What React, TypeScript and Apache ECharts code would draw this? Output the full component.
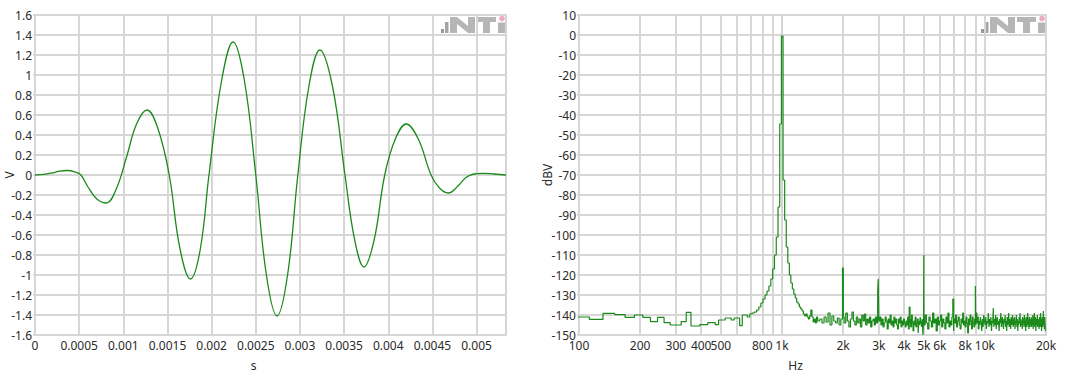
import React, { useEffect, useRef } from "react";
import * as echarts from "echarts";

// ---------- Left chart: time signal (s, V) ----------
const waveT = [
  0, 0.0001, 0.0002, 0.00028, 0.00036, 0.00045, 0.00052, 0.0006, 0.0007, 0.000807,
  0.00092, 0.00104, 0.00115, 0.001268, 0.00139, 0.00152, 0.00164, 0.00176, 0.00187, 0.00197,
  0.00211, 0.002243, 0.00237, 0.0025, 0.00262, 0.00274, 0.00286, 0.002976, 0.0031, 0.003225,
  0.00337, 0.00351, 0.00362, 0.003725, 0.00384, 0.00396, 0.00408, 0.004204, 0.00434, 0.004485,
  0.00458, 0.00468, 0.00479, 0.00488, 0.00497, 0.00507, 0.0052, 0.005333,
];
const waveV = [
  0, 0.006, 0.022, 0.038, 0.045, 0.032, 0, -0.12, -0.24, -0.28,
  -0.14, 0.19, 0.51, 0.65, 0.47, 0, -0.73, -1.04, -0.75, 0,
  0.93, 1.33, 0.95, 0, -1.0, -1.41, -1.0, 0, 0.88, 1.25,
  0.88, 0, -0.65, -0.92, -0.65, 0, 0.36, 0.51, 0.36, 0,
  -0.13, -0.18, -0.11, -0.025, 0.01, 0.017, 0.01, 0,
];

// ---------- Right chart: spectrum (Hz, dBV) ----------
const BIN_HZ = 18.75;
const LOW_FIRST_BIN = 5;
// one value per FFT bin, bins 5..79 (93.75 Hz .. 1481.25 Hz)
const lowBins = [
  -141, -141, -142.2, -139.2, -139.8, -141.2, -140, -141.2, -143.3, -141.2,
  -143.8, -145, -145, -143.3, -138.7, -145.5, -145.5, -144.8, -144.8, -143.8,
  -143.8, -144.8, -142.5, -142.5, -141.5, -141.5, -142.5, -141.5, -141.5, -145.3,
  -140, -140, -141, -139.5, -139, -138.5, -137.5, -136, -134, -132,
  -130, -128, -125.5, -122, -117, -110, -101, -86, -44.5, -0.5,
  -72.5, -92.5, -106, -114, -120, -124, -127, -129.5, -131.5, -133.5,
  -134.5, -136, -137, -138, -139.5, -140.5, -139.5, -141, -142, -140.5,
  -137.5, -141, -143.5, -142, -144,
];
// noise floor 1500 Hz .. 4987.5 Hz, every 37.5 Hz
const NOISE_A_START = 1500;
const NOISE_A_STEP = 37.5;
const noiseA = [
  -141, -143, -142, -144, -141, -143.5, -139, -145, -140.5, -143, -144, -141.5, -145, -142,
  -141, -144, -139, -143, -146, -142, -138.5, -143, -145, -141, -144, -142, -146, -140,
  -143, -139.5, -145, -142, -144, -141, -146, -143, -142, -145, -141, -144, -143,
  -143, -141, -145, -142, -146, -144, -141, -143, -147, -142, -144, -140, -145, -143,
  -146, -141, -144, -142, -145, -147, -142, -144, -141, -146, -143, -145,
  -142, -144, -146, -143, -145, -141, -147, -144, -142, -146, -140, -144, -148, -143,
  -145, -141, -146, -144, -142, -149, -143, -145, -141, -144, -146, -142, -150,
];
// noise floor 5000 Hz .. 19925 Hz, every 75 Hz
const NOISE_B_START = 5000;
const NOISE_B_STEP = 75;
const noiseB = [
  -142, -145, -140, -144, -147, -141, -143, -146, -139, -144, -142, -148, -141, -145, -143, -140, -146, -142, -144, -147,
  -141, -144, -139, -146, -143, -145, -141, -148, -142, -144, -140, -146, -143, -141, -145, -147, -142, -144, -139, -145,
  -143, -146, -141, -144, -149, -142, -145, -140, -143, -147, -141, -144, -146, -142, -145, -139, -144, -141, -147, -143,
  -145, -141, -144, -148, -142, -146, -140, -143, -145, -141, -147, -143, -144, -139, -146, -142, -145, -141, -148, -143,
  -144, -141, -146, -142, -145, -140, -147, -143, -141, -145, -143, -148, -142, -144, -139, -146, -143, -141, -145, -147,
  -142, -144, -140, -146, -143, -148, -141, -145, -143, -139, -146, -142, -144, -147, -141, -145, -143, -140, -146, -142,
  -145, -141, -147, -143, -144, -140, -146, -142, -148, -143, -145, -141, -144, -139, -146, -142, -145, -143, -147, -141,
  -144, -142, -146, -140, -145, -143, -148, -141, -144, -146, -142, -139, -145, -143, -147, -141, -144, -146, -142, -145,
  -141, -146, -143, -145, -140, -147, -142, -144, -139, -146, -143, -141, -148, -144, -142, -145, -140, -146, -143, -145,
  -142, -147, -141, -144, -146, -139, -145, -142, -148, -143, -141, -146, -144, -138, -145, -142, -147, -141, -144, -148,
];
const endPoint = [20000, -148];
// harmonic / spurious lines: [Hz, dBV], one bin wide
const spikes = [
  [2006.25, -116.5],
  [2981.25, -128],
  [3000, -122],
  [4275, -136],
  [5006.25, -110],
  [7012.5, -132],
  [9000, -125.5],
  [11006.25, -136.5],
];

const gridFreqs = [
  100, 200, 300, 400, 500, 600, 700, 800, 900, 1000, 2000, 3000, 4000, 5000, 6000,
  7000, 8000, 9000, 10000, 20000,
];
const labelFreqs = [100, 200, 300, 400, 500, 800, 1000, 2000, 3000, 4000, 5000, 6000, 8000, 10000, 20000];

function buildSpectrum(): number[][] {
  const base: number[][] = [];
  lowBins.forEach((v, i) => base.push([(LOW_FIRST_BIN + i) * BIN_HZ, v]));
  noiseA.forEach((v, i) => base.push([NOISE_A_START + i * NOISE_A_STEP, v]));
  noiseB.forEach((v, i) => base.push([NOISE_B_START + i * NOISE_B_STEP, v]));
  base.push(endPoint);
  const valueAt = (f: number) => {
    let v = base[0][1];
    for (const p of base) {
      if (p[0] <= f) v = p[1];
      else break;
    }
    return v;
  };
  const inSpike = (f: number) => spikes.some((s) => f >= s[0] && f < s[0] + BIN_HZ);
  const pts = base.filter((p) => !inSpike(p[0]));
  for (const s of spikes) {
    pts.push([s[0], s[1]]);
    const end = s[0] + BIN_HZ;
    if (!spikes.some((t) => Math.abs(t[0] - end) < 1e-6)) pts.push([end, valueAt(end)]);
  }
  pts.sort((a, b) => a[0] - b[0]);
  return pts;
}

const LABEL_FONT = "'Segoe UI', 'Noto Sans', sans-serif";
const GRID_COLOR = "#d6d6d6";
const LINE_GREEN = "#1b8a1b";

function logo(right: number, top: number) {
  const gray = "#b6b6b6";
  const x0 = right - 65;
  return {
    type: "group",
    x: x0,
    y: top,
    silent: true,
    children: [
      { type: "rect", shape: { x: 0, y: 12, width: 3, height: 4 }, style: { fill: "#999999" } },
      { type: "rect", shape: { x: 4, y: 5, width: 3.5, height: 11 }, style: { fill: "#a4a4a4" } },
      {
        type: "polygon",
        shape: {
          points: [
            [9, 0], [16, 0], [27, 9], [27, 0], [34, 0], [34, 16], [27, 16], [16, 7], [16, 16], [9, 16],
          ],
        },
        style: { fill: gray },
      },
      {
        type: "polygon",
        shape: {
          points: [
            [36, 0], [55, 0], [55, 5], [49, 5], [49, 16], [42, 16], [42, 5], [36, 5],
          ],
        },
        style: { fill: gray },
      },
      { type: "rect", shape: { x: 57, y: 5.5, width: 7, height: 10.5 }, style: { fill: gray } },
      { type: "circle", shape: { cx: 61, cy: 1.5, r: 2.8 }, style: { fill: "#eeaac4" } },
    ],
  };
}

export default function App() {
  const ref = useRef<HTMLDivElement>(null);
  useEffect(() => {
    if (!ref.current) return;
    const chart = echarts.init(ref.current, undefined, { renderer: "svg" });
    const axisLabel = { color: "#2b2b2b", fontSize: 12, fontFamily: LABEL_FONT };
    const splitLine = { show: true, lineStyle: { color: GRID_COLOR, width: 2 } };
    const axisLine = { show: true, lineStyle: { color: GRID_COLOR, width: 2 } };
    const nameStyle = { color: "#2b2b2b", fontSize: 12, fontFamily: LABEL_FONT };
    const xNameStyle = { ...nameStyle, padding: [0, 34, 0, 0] };
    const wave = waveT.map((t, i) => [t, waveV[i]]);
    const spectrum = buildSpectrum();

    chart.setOption({
      animation: false,
      backgroundColor: "#ffffff",
      grid: [
        {
          left: 35, top: 15, width: 471, height: 320, show: true,
          borderColor: GRID_COLOR, borderWidth: 2, containLabel: false, outerBoundsMode: "none",
        },
        {
          left: 579, top: 15, width: 467, height: 320, show: true,
          borderColor: GRID_COLOR, borderWidth: 2, containLabel: false, outerBoundsMode: "none",
        },
      ],
      xAxis: [
        {
          type: "value",
          gridIndex: 0,
          min: 0,
          max: 0.0053333,
          interval: 0.0005,
          name: "s",
          nameLocation: "middle",
          nameGap: 24,
          nameMoveOverlap: false,
          nameTextStyle: xNameStyle,
          axisLine,
          axisTick: { show: false },
          axisLabel: { ...axisLabel, margin: 4, showMaxLabel: false },
          splitLine,
        },
        {
          type: "log",
          gridIndex: 1,
          min: 100,
          max: 20000,
          logBase: 10,
          name: "Hz",
          nameLocation: "middle",
          nameGap: 24,
          nameMoveOverlap: false,
          nameTextStyle: xNameStyle,
          axisLine,
          axisTick: { show: false, customValues: gridFreqs },
          axisLabel: {
            ...axisLabel,
            margin: 4,
            customValues: labelFreqs,
            formatter: (v: number) => (v >= 1000 ? `${Math.round(v / 1000)}k` : `${Math.round(v)}`),
          },
          splitLine,
        },
      ],
      yAxis: [
        {
          type: "value",
          gridIndex: 0,
          min: -1.6,
          max: 1.6,
          interval: 0.2,
          name: "V",
          nameLocation: "middle",
          nameGap: 20,
          nameMoveOverlap: false,
          nameTextStyle: nameStyle,
          axisLine,
          axisTick: { show: true, length: 2, lineStyle: { color: GRID_COLOR, width: 2 } },
          axisLabel: { ...axisLabel, margin: 3 },
          splitLine,
        },
        {
          type: "value",
          gridIndex: 1,
          min: -150,
          max: 10,
          interval: 10,
          name: "dBV",
          nameLocation: "middle",
          nameGap: 26,
          nameMoveOverlap: false,
          nameTextStyle: nameStyle,
          axisLine,
          axisTick: { show: true, length: 2, lineStyle: { color: GRID_COLOR, width: 2 } },
          axisLabel: { ...axisLabel, margin: 3 },
          splitLine,
        },
      ],
      series: [
        {
          type: "line",
          xAxisIndex: 0,
          yAxisIndex: 0,
          data: wave,
          smooth: 0.4,
          showSymbol: false,
          symbol: "none",
          lineStyle: { color: LINE_GREEN, width: 1.3 },
        },
        {
          type: "line",
          xAxisIndex: 1,
          yAxisIndex: 1,
          data: spectrum,
          step: "start",
          showSymbol: false,
          symbol: "none",
          clip: true,
          lineStyle: { color: LINE_GREEN, width: 1.2 },
        },
      ],
      graphic: [logo(506, 17), logo(1046, 17)],
    });
    return () => chart.dispose();
  }, []);

  return (
    <div
      ref={ref}
      style={{ position: "absolute", left: 0, top: 0, width: 1080, height: 378, background: "#fff" }}
    />
  );
}
